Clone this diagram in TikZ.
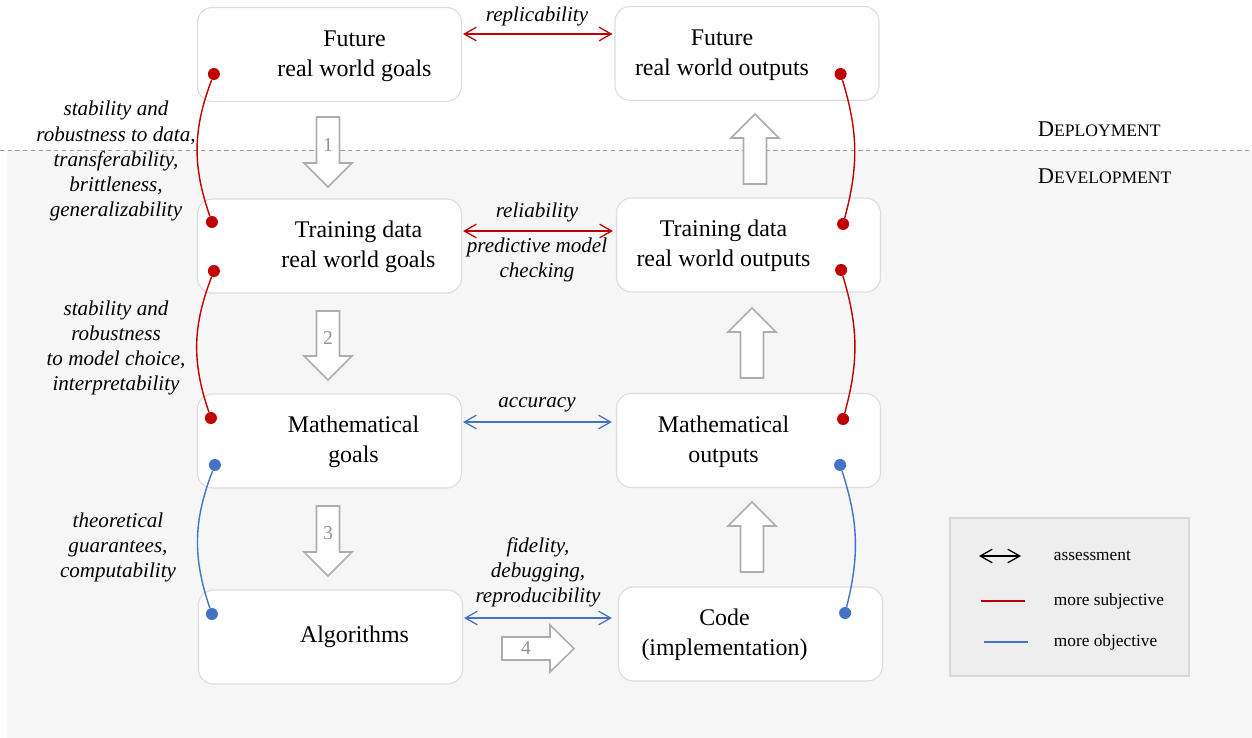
\documentclass[tikz,border=0pt]{standalone}
\usepackage{fontspec}
\setmainfont{Liberation Serif}
\usepackage{tikz}
\usetikzlibrary{arrows.meta, calc, positioning}

\definecolor{subjred}{HTML}{C00000}
\definecolor{objblue}{HTML}{4472C4}
\definecolor{devgray}{HTML}{F6F6F6}
\definecolor{boxgray}{HTML}{DDDDDD}
\definecolor{arrowgray}{HTML}{ADADAD}
\definecolor{legendgray}{HTML}{EEEEEE}
\definecolor{legendedge}{HTML}{D8D8D8}
\definecolor{dashgray}{HTML}{9A9A9A}

\begin{document}
\begin{tikzpicture}[x=0.025cm, y=-0.025cm,
    box/.style={rectangle, rounded corners=0.38cm, minimum width=6.6cm, minimum height=2.35cm,
                draw=boxgray, fill=white, line width=0.8pt},
    boxtext/.style={align=center, font=\fontsize{17}{21}\selectfont},
    tag/.style={align=center, font=\fontsize{15}{17.8}\selectfont\itshape},
    assess/.style={{Straight Barb[length=0.3cm,width=0.34cm]}-{Straight Barb[length=0.3cm,width=0.34cm]},
                   line width=0.9pt},
    link/.style={line width=1pt},
    dot/.style={circle, fill, inner sep=0pt, minimum size=0.3cm},
    blockarrow/.style={draw=arrowgray, fill=white, line width=1.1pt, line join=miter},
    stepnum/.style={text=arrowgray!85!black, font=\fontsize{14}{14}\selectfont},
    phase/.style={anchor=west},
    legendtext/.style={anchor=west, font=\fontsize{12.3}{14}\selectfont}]

    \useasboundingbox (0,0) rectangle (1252,738);

    % Development area and phase line
    \fill[devgray] (7,150) rectangle (1252,738);
    \draw[dashgray, dashed, dash pattern=on 3pt off 2.5pt, line width=0.6pt] (0,150) -- (1252,150);
    \node[phase] (deploy) at (1033,129) {\fontsize{16}{16}\selectfont D\fontsize{12.5}{12.5}\selectfont EPLOYMENT};
    \node[phase] (develop) at (1033,176) {\fontsize{16}{16}\selectfont D\fontsize{12.5}{12.5}\selectfont EVELOPMENT};

    % Boxes
    \node[box] (fgoals) at (329.5,54.5) {};
    \node[box] (foutputs) at (747,53.5) {};
    \node[box] (tgoals) at (329.5,246) {};
    \node[box] (toutputs) at (748.5,245) {};
    \node[box] (mgoals) at (329.5,441) {};
    \node[box] (moutputs) at (748.5,440.5) {};
    \node[box] (algo) at (330.5,637) {};
    \node[box] (code) at (750.5,634) {};

    \node[boxtext] (fgoalstext) at ($(fgoals)+(25,1.5)$) {Future\\real world goals};
    \node[boxtext] (foutputstext) at ($(foutputs)+(-25,1.5)$) {Future\\real world outputs};
    \node[boxtext] (tgoalstext) at ($(tgoals)+(29,1)$) {Training data\\real world goals};
    \node[boxtext] (toutputstext) at ($(toutputs)+(-25,1)$) {Training data\\real world outputs};
    \node[boxtext] (mgoalstext) at ($(mgoals)+(24,1)$) {Mathematical\\goals};
    \node[boxtext] (moutputstext) at ($(moutputs)+(-25,1)$) {Mathematical\\outputs};
    \node[boxtext] (algotext) at ($(algo)+(24,0)$) {Algorithms};
    \node[boxtext] (codetext) at ($(code)+(-26,1)$) {Code\\(implementation)};

    % Step arrows
    \draw[blockarrow] (316.5,117) -- ++(23,0) -- ++(0,46) -- ++(12.5,0) -- ++(-24,24) -- ++(-24,-24) -- ++(12.5,0) -- cycle;
    \draw[blockarrow] (316.5,311) -- ++(23,0) -- ++(0,45) -- ++(12.5,0) -- ++(-24,24) -- ++(-24,-24) -- ++(12.5,0) -- cycle;
    \draw[blockarrow] (316.5,506) -- ++(23,0) -- ++(0,46) -- ++(12.5,0) -- ++(-24,24) -- ++(-24,-24) -- ++(12.5,0) -- cycle;
    \draw[blockarrow] (502,637) -- ++(48,0) -- ++(0,-12) -- ++(24,23.5) -- ++(-24,23.5) -- ++(0,-12) -- ++(-48,0) -- cycle;
    \node[stepnum] (one) at (328,145) {1};
    \node[stepnum] (two) at (328,338) {2};
    \node[stepnum] (three) at (328,533) {3};
    \node[stepnum] (four) at (526,648.5) {4};

    \draw[blockarrow] (755,114) -- ++(24,24) -- ++(-12.5,0) -- ++(0,46) -- ++(-23,0) -- ++(0,-46) -- ++(-12.5,0) -- cycle;
    \draw[blockarrow] (752,308) -- ++(24,24) -- ++(-12.5,0) -- ++(0,46) -- ++(-23,0) -- ++(0,-46) -- ++(-12.5,0) -- cycle;
    \draw[blockarrow] (752,502) -- ++(24,24) -- ++(-12.5,0) -- ++(0,46) -- ++(-23,0) -- ++(0,-46) -- ++(-12.5,0) -- cycle;

    % Assessment arrows
    \draw[assess, subjred] ($(fgoals.east)+(1,-20.5)$) -- ($(foutputs.west)+(-2,-19.5)$);
    \draw[assess, subjred] ($(tgoals.east)+(1,-15)$) -- ($(toutputs.west)+(-3,-14)$);
    \draw[assess, objblue] ($(mgoals.east)+(1,-19)$) -- ($(moutputs.west)+(-4,-18.5)$);
    \draw[assess, objblue] ($(algo.east)+(1,-19)$) -- ($(code.west)+(-6,-16)$);

    \node[tag] (replic) at (537,16) {replicability};
    \node[tag] (reliab) at (537,212) {reliability};
    \node[tag] (predict) at (537,260) {predictive model\\checking};
    \node[tag] (accur) at (537,405) {accuracy};
    \node[tag] (fidel) at (538,572) {fidelity,\\debugging,\\reproducibility};

    % Links between levels
    \node[dot, subjred] (d1) at ($(fgoals.west)+(17,19.5)$) {};
    \node[dot, subjred] (d2) at ($(tgoals.west)+(15,-24)$) {};
    \node[dot, subjred] (d3) at ($(tgoals.west)+(17,25)$) {};
    \node[dot, subjred] (d4) at ($(mgoals.west)+(14,-23)$) {};
    \node[dot, objblue] (d5) at ($(mgoals.west)+(18,24)$) {};
    \node[dot, objblue] (d6) at ($(algo.west)+(14,-23)$) {};
    \node[dot, subjred] (e1) at ($(foutputs.east)+(-39,20.5)$) {};
    \node[dot, subjred] (e2) at ($(toutputs.east)+(-38,-21)$) {};
    \node[dot, subjred] (e3) at ($(toutputs.east)+(-40,25)$) {};
    \node[dot, subjred] (e4) at ($(moutputs.east)+(-38,-21.5)$) {};
    \node[dot, objblue] (e5) at ($(moutputs.east)+(-41,24.5)$) {};
    \node[dot, objblue] (e6) at ($(code.east)+(-38,-21)$) {};

    \draw[link, subjred] (d1) to[bend right=20] (d2);
    \draw[link, subjred] (d3) to[bend right=20] (d4);
    \draw[link, objblue] (d5) to[bend right=20] (d6);
    \draw[link, subjred] (e1) to[bend left=16] (e2);
    \draw[link, subjred] (e3) to[bend left=16] (e4);
    \draw[link, objblue] (e5) to[bend left=16] (e6);

    \node[tag] (stabdata) at (116,161) {stability and\\robustness to data,\\transferability,\\brittleness,\\generalizability};
    \node[tag] (stabmodel) at (116,348) {stability and\\robustness\\to model choice,\\interpretability};
    \node[tag] (theory) at (118,547) {theoretical\\guarantees,\\computability};

    % Legend
    \node[rectangle, draw=legendedge, fill=legendgray, line width=0.8pt,
          minimum width=5.975cm, minimum height=3.95cm] (legend) at (1069.5,597) {};
    \node[legendtext] (lassess) at (1049,556) {assessment};
    \node[legendtext] (lsubj) at (1049,601) {more subjective};
    \node[legendtext] (lobj) at (1049,642) {more objective};
    \draw[assess, black] ($(lassess.west)+(-70,0)$) -- ++(42,0);
    \draw[link, subjred] ($(lsubj.west)+(-68,0)$) -- ++(44,0);
    \draw[link, objblue] ($(lobj.west)+(-65,0)$) -- ++(44,0);

\end{tikzpicture}
\end{document}
